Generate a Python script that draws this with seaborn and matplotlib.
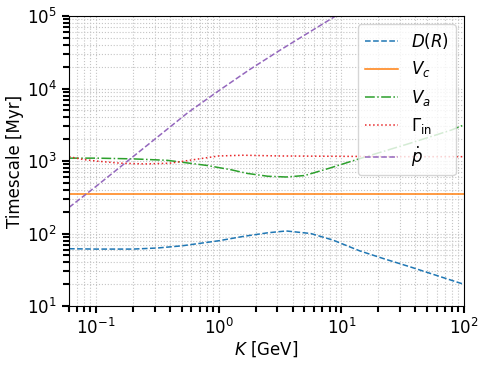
import matplotlib
matplotlib.use("Agg")
import matplotlib.pyplot as plt
import numpy as np
import pandas as pd
import seaborn as sns

# values (log10 K, log10 timescale)
logk_D = [-1.22, -1.0, -0.7, -0.5, -0.3, 0.0, 0.2, 0.4, 0.55, 0.75, 0.93, 1.15, 1.35, 1.56, 1.76, 1.96, 2.0]
logt_D = [1.79, 1.785, 1.785, 1.80, 1.83, 1.90, 1.96, 2.01, 2.035, 2.00, 1.91, 1.76, 1.65, 1.54, 1.43, 1.32, 1.30]

k_Vc = [0.06, 100]
t_Vc = [350, 350]

logk_Va = [-1.22, -1.0, -0.7, -0.42, -0.1, 0.1, 0.23, 0.4, 0.55, 0.7, 0.9, 1.2, 1.55, 1.9, 2.0]
logt_Va = [3.04, 3.04, 3.03, 3.01, 2.94, 2.88, 2.83, 2.79, 2.78, 2.80, 2.90, 3.06, 3.24, 3.43, 3.50]

logk_G = [-1.22, -1.1, -1.0, -0.8, -0.6, -0.4, -0.2, 0.0, 0.2, 0.5, 1.0, 1.5, 2.0]
logt_G = [3.06, 3.02, 3.00, 2.97, 2.96, 2.97, 3.02, 3.07, 3.08, 3.07, 3.065, 3.06, 3.06]

logk_p = [-1.22, -1.0, -0.75, -0.5, -0.25, 0.0, 0.25, 0.5, 0.75, 1.0]
logt_p = [2.36, 2.65, 2.99, 3.33, 3.67, 3.97, 4.26, 4.53, 4.79, 5.05]

plt.rcParams['font.family'] = ['DejaVu Sans']
plt.rcParams['mathtext.fontset'] = 'dejavusans'

fig = plt.figure(figsize=(4.88, 3.66), dpi=100)
ax = fig.add_axes([0.141, 0.164, 0.810, 0.792])

series = [
    ("$D(R)$", logk_D, logt_D, "C0", "--"),
    ("$V_c$", list(np.log10(k_Vc)), list(np.log10(t_Vc)), "C1", "-"),
    ("$V_a$", logk_Va, logt_Va, "C2", "-."),
    (r"$\Gamma_{\rm in}$", logk_G, logt_G, "#e8282a", ":"),
    (r"$\dot{p}$", logk_p, logt_p, "C4", "--"),
]

for label, lk, lt, col, ls in series:
    df = pd.DataFrame({"K": 10 ** np.array(lk), "T": 10 ** np.array(lt)})
    sns.lineplot(data=df, x="K", y="T", ax=ax, color=col, linestyle=ls,
                 linewidth=1.1, label=label)

ax.set_xscale("log")
ax.set_yscale("log")
ax.set_xlim(0.06, 100)
ax.set_ylim(10, 1e5)
ax.grid(which="both", linestyle=":", color="#c4c4c4", linewidth=0.8)
ax.tick_params(which="major", labelsize=12, length=5, width=1.5)
ax.tick_params(which="minor", length=4, width=1.5)
ax.set_xlabel("$K$ [GeV]", fontsize=12, labelpad=1)
ax.set_ylabel("Timescale [Myr]", fontsize=12, labelpad=2)
ax.legend(loc="upper right", fontsize=12, framealpha=0.8)

fig.savefig("out.png", dpi=100)
